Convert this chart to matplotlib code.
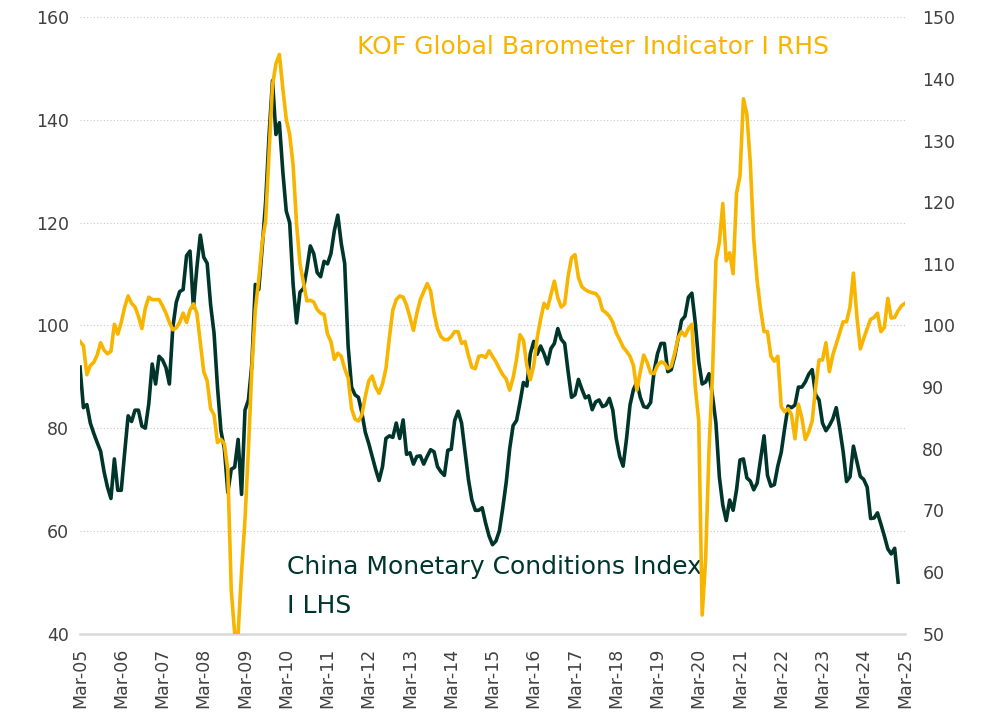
import numpy as np
import matplotlib
matplotlib.use('Agg')
import matplotlib.pyplot as plt
from matplotlib.transforms import ScaledTranslation

# China Monetary Conditions Index (LHS), monthly from Mar-05
mci = [
    91.9, 84.0, 84.6, 81.0, 79.0, 77.2, 75.5, 71.5, 68.5, 66.3,
    74.0, 67.9, 67.9, 75.3, 82.4, 81.3, 83.5, 83.5, 80.4, 80.0,
    84.7, 92.5, 88.6, 94.0, 93.3, 91.8, 88.6, 99.6, 104.5, 106.6,
    107.0, 113.6, 114.5, 103.5, 111.3, 117.6, 113.3, 112.1, 104.0, 98.5,
    88.0, 79.5, 76.0, 67.5, 72.0, 72.4, 77.8, 67.1, 83.5, 85.5,
    92.5, 108.0, 107.0, 115.2, 124.0, 137.0, 147.7, 137.2, 139.5, 130.0,
    122.3, 120.0, 108.0, 100.5, 106.5, 107.2, 111.0, 115.5, 114.0, 110.3,
    109.5, 112.5, 112.0, 114.0, 118.5, 121.5, 116.0, 112.1, 96.0, 88.0,
    86.5, 86.0, 83.0, 79.2, 77.0, 74.5, 72.0, 69.8, 72.5, 78.0,
    78.5, 78.2, 81.0, 78.0, 81.6, 74.9, 75.2, 73.0, 74.5, 74.6,
    73.0, 74.5, 75.8, 75.4, 72.5, 71.5, 70.8, 75.7, 75.9, 81.5,
    83.3, 81.0, 75.5, 70.0, 66.0, 64.0, 64.0, 64.5, 61.5, 59.0,
    57.3, 58.0, 60.0, 64.5, 69.5, 76.0, 80.5, 81.5, 85.0, 88.9,
    88.2, 94.5, 96.9, 94.4, 96.0, 94.5, 92.5, 95.5, 96.5, 99.4,
    97.3, 96.5, 91.0, 86.0, 86.5, 89.5, 87.6, 85.9, 86.3, 83.6,
    85.1, 85.5, 84.2, 84.5, 85.8, 83.5, 78.0, 74.5, 72.6, 78.0,
    84.5, 87.5, 89.0, 86.0, 84.2, 84.0, 85.0, 91.0, 94.5, 96.5,
    96.5, 91.0, 91.4, 94.0, 97.5, 101.0, 101.8, 105.5, 106.3, 100.5,
    93.0, 88.6, 89.0, 90.6, 86.3, 81.0, 70.5, 65.0, 62.0, 66.0,
    64.0, 68.0, 73.8, 74.0, 70.3, 69.7, 68.0, 69.3, 74.0, 78.5,
    70.8, 68.7, 69.0, 72.6, 75.3, 80.0, 84.3, 84.0, 84.5, 88.0,
    88.0, 89.0, 90.5, 91.4, 86.5, 85.5, 81.0, 79.5, 80.5, 81.8,
    84.0, 80.0, 75.5, 69.6, 70.5, 76.5, 73.5, 70.6, 70.0, 68.5,
    62.4, 62.5, 63.5, 61.3, 59.0, 56.5, 55.5, 56.6, 50.0,
]

# KOF Global Barometer Indicator (RHS), monthly from Mar-05
kof = [
    97.4, 96.7, 92.0, 93.5, 94.0, 95.2, 97.2, 96.0, 95.4, 95.8,
    100.2, 98.6, 100.5, 103.0, 104.8, 103.6, 103.0, 101.5, 99.5, 102.8,
    104.6, 104.2, 104.2, 104.2, 103.2, 102.0, 100.5, 99.3, 99.6, 100.5,
    102.0, 100.5, 102.5, 103.5, 102.0, 97.2, 92.5, 91.0, 86.5, 85.5,
    81.0, 81.5, 80.8, 76.5, 57.0, 50.0, 50.0, 60.0, 68.5, 80.0,
    93.0, 102.5, 107.5, 113.5, 117.0, 128.0, 139.0, 142.5, 144.0, 138.5,
    133.5, 131.0, 126.0, 116.5, 110.0, 107.0, 104.0, 104.1, 103.8, 102.6,
    102.0, 101.8, 98.6, 97.4, 94.5, 95.5, 95.0, 93.0, 91.5, 86.5,
    84.8, 84.5, 85.5, 88.5, 91.0, 91.8, 90.0, 89.0, 90.5, 93.0,
    98.0, 102.5, 104.2, 104.8, 104.6, 103.3, 101.3, 99.2, 102.0, 104.2,
    105.5, 106.8, 105.6, 102.0, 99.5, 98.2, 97.7, 97.7, 98.2, 99.0,
    99.0, 97.1, 97.4, 95.1, 93.2, 93.0, 95.0, 95.1, 94.8, 95.9,
    95.0, 94.1, 93.0, 92.0, 91.3, 89.5, 91.5, 94.5, 98.5, 97.6,
    93.5, 91.2, 93.5, 98.0, 101.0, 103.6, 102.8, 105.0, 107.2, 104.5,
    103.0, 103.5, 108.0, 111.0, 111.5, 107.8, 106.3, 105.8, 105.5, 105.3,
    105.2, 104.5, 102.5, 102.1, 101.5, 100.5, 98.8, 97.7, 96.5, 95.8,
    95.0, 93.5, 89.5, 92.5, 95.2, 94.0, 92.3, 92.2, 93.5, 94.1,
    93.9, 93.0, 93.4, 95.5, 98.0, 99.0, 98.3, 99.5, 100.2, 90.0,
    84.5, 53.0, 62.0, 80.0, 92.0, 110.5, 113.5, 119.8, 110.5, 111.8,
    108.4, 121.5, 124.3, 136.8, 134.3, 126.4, 114.0, 107.2, 102.6, 99.0,
    99.0, 95.0, 94.2, 95.0, 86.8, 86.0, 86.5, 85.5, 81.6, 87.2,
    85.0, 81.5, 82.7, 84.5, 90.0, 94.4, 94.4, 97.2, 92.5, 95.2,
    97.0, 98.8, 100.6, 100.6, 103.0, 108.5, 101.5, 96.2, 97.9, 99.5,
    101.0, 101.3, 102.0, 99.0, 99.7, 104.4, 101.2, 101.3, 102.4, 103.2,
    103.6,
]

tick_labels = ['Mar-05', 'Mar-06', 'Mar-07', 'Mar-08', 'Mar-09', 'Mar-10',
               'Mar-11', 'Mar-12', 'Mar-13', 'Mar-14', 'Mar-15', 'Mar-16',
               'Mar-17', 'Mar-18', 'Mar-19', 'Mar-20', 'Mar-21', 'Mar-22',
               'Mar-23', 'Mar-24', 'Mar-25']

dark = '#00352c'
gold = '#f7b500'
grey_txt = '#404040'

plt.rcParams['font.family'] = ['DejaVu Sans']

fig = plt.figure(figsize=(9.84, 7.25), dpi=100)
ax = fig.add_axes([0.0813, 0.1262, 0.8384, 0.8497])
ax2 = ax.twinx()

x_mci = np.arange(len(mci))
x_kof = np.arange(len(kof))
ax.plot(x_mci, mci, color=dark, lw=2.6, solid_joinstyle='round', zorder=3)
ax2.plot(x_kof, kof, color=gold, lw=2.6, solid_joinstyle='round', zorder=3)

ax.set_xlim(0, 240)
ax.set_ylim(40, 160)
ax2.set_ylim(50, 150)
ax.set_yticks(np.arange(40, 161, 20))
ax2.set_yticks(np.arange(50, 151, 10))
ax.set_xticks(np.arange(0, 241, 12))
ax.set_xticklabels(tick_labels, rotation=90)

for a in (ax, ax2):
    for s in a.spines.values():
        s.set_visible(False)
    a.tick_params(length=0, labelsize=12.5, labelcolor=grey_txt)
ax.spines['bottom'].set_visible(True)
ax.spines['bottom'].set_color('#d9d9d9')
ax.spines['bottom'].set_linewidth(1.8)
ax.tick_params(axis='y', pad=8)
ax.tick_params(axis='x', pad=10)

# push right-hand labels away from the plot
shift = ScaledTranslation(9 / 72, 0, fig.dpi_scale_trans)
for lbl in ax2.get_yticklabels():
    lbl.set_transform(lbl.get_transform() + shift)

# dotted gridlines at left-axis ticks
for v in range(60, 161, 20):
    ax.axhline(v, color='#c8c8c8', lw=0.8, ls=(0, (1, 2)), zorder=1)

ax.text(0.336, 0.952, 'KOF Global Barometer Indicator I RHS', transform=ax.transAxes,
        color=gold, fontsize=18, va='center', ha='left')
ax.text(0.251, 0.108, 'China Monetary Conditions Index', transform=ax.transAxes,
        color=dark, fontsize=18, va='center', ha='left')
ax.text(0.251, 0.045, 'I LHS', transform=ax.transAxes,
        color=dark, fontsize=18, va='center', ha='left')

fig.savefig('out.png', dpi=100)
